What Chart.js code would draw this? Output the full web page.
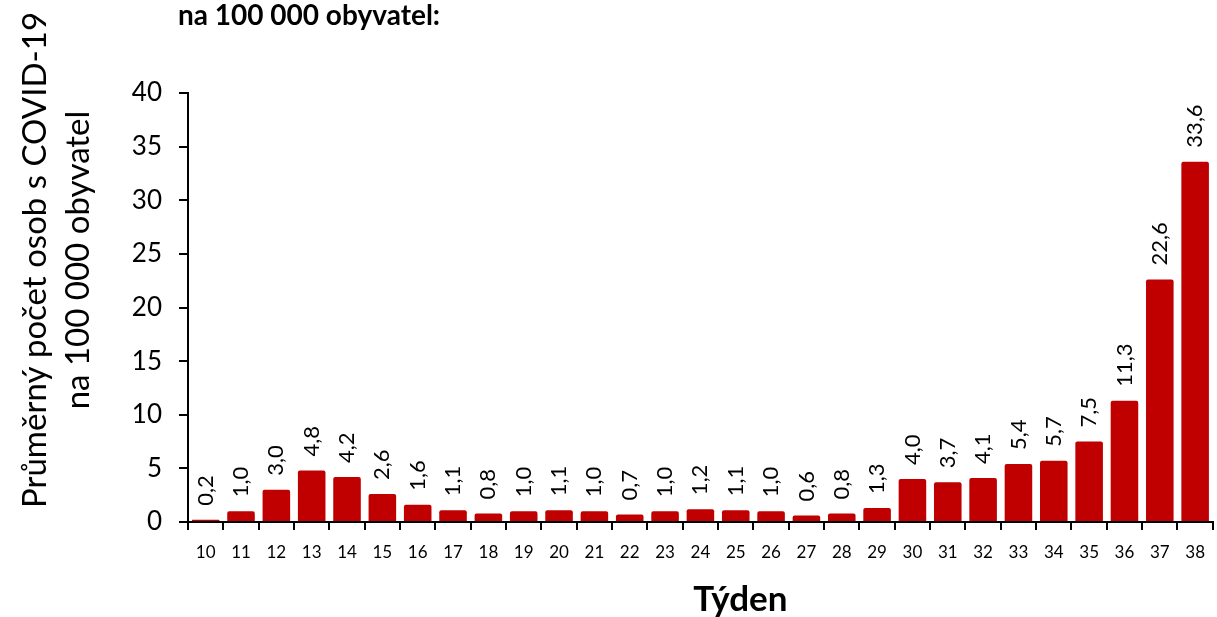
<!DOCTYPE html>
<html>
<head>
<meta charset="utf-8">
<script src="https://cdn.jsdelivr.net/npm/chart.js@4"></script>
<style>
  html, body { margin: 0; padding: 0; background: #fff; overflow: hidden; }
  canvas { display: block; }
</style>
</head>
<body>
<canvas id="myChart" width="1217" height="617"></canvas>
<script>
// tydny a hodnoty
var weeks = ['10','11','12','13','14','15','16','17','18','19','20','21','22','23','24','25','26','27','28','29','30','31','32','33','34','35','36','37','38'];
var values = [0.2,1.0,3.0,4.8,4.2,2.6,1.6,1.1,0.8,1.0,1.1,1.0,0.7,1.0,1.2,1.1,1.0,0.6,0.8,1.3,4.0,3.7,4.1,5.4,5.7,7.5,11.3,22.6,33.6];
var yTicks = [0,5,10,15,20,25,30,35,40];
var titleText = 'na 100 000 obyvatel:';
var yTitle = ['Průměrný počet osob s COVID-19', 'na 100 000 obyvatel'];
var xTitle = 'Týden';

var FONT = 'Lato, "Open Sans", sans-serif';

// popisky nad sloupci (otocene)
var barLabels = {
  id: 'barLabels',
  afterDatasetsDraw: function(chart) {
    var ctx = chart.ctx;
    var meta = chart.getDatasetMeta(0);
    ctx.save();
    ctx.fillStyle = '#000';
    ctx.font = '22px ' + FONT;
    ctx.textAlign = 'left';
    ctx.textBaseline = 'middle';
    meta.data.forEach(function(bar, i) {
      var txt = values[i].toFixed(1).replace('.', ',');
      ctx.save();
      ctx.translate(bar.x, bar.y - 14);
      ctx.rotate(-Math.PI / 2);
      ctx.fillText(txt, 0, 0);
      ctx.restore();
    });
    ctx.restore();
  }
};

// nadpis nahore + popisky os
var texts = {
  id: 'texts',
  afterDraw: function(chart) {
    var ctx = chart.ctx;
    var area = chart.chartArea;
    ctx.save();
    ctx.fillStyle = '#000';
    ctx.font = 'bold 28px ' + FONT;
    ctx.textAlign = 'left';
    ctx.textBaseline = 'middle';
    ctx.fillText(titleText, 178, 16);

    ctx.font = 'bold 35px ' + FONT;
    ctx.textAlign = 'center';
    ctx.fillText(xTitle, (area.left + area.right) / 2 + 40, 600);

    ctx.font = '33px ' + FONT;
    ctx.translate(35, 260);
    ctx.rotate(-Math.PI / 2);
    ctx.fillText(yTitle[0], 0, 0);
    ctx.fillText(yTitle[1], 0, 43);
    ctx.restore();
  }
};

var ctx = document.getElementById('myChart').getContext('2d');
var chart = new Chart(ctx, {
  type: 'bar',
  data: {
    labels: weeks,
    datasets: [{
      data: values,
      backgroundColor: '#C00000',
      borderRadius: 2,
      borderSkipped: 'bottom',
      barPercentage: 0.78,
      categoryPercentage: 1.0
    }]
  },
  options: {
    responsive: false,
    animation: false,
    layout: { padding: { top: 93, left: 13, right: 0, bottom: 0 } },
    plugins: {
      legend: { display: false },
      tooltip: { enabled: false }
    },
    scales: {
      x: {
        afterFit: function(axis) { axis.height = 95; },
        grid: { drawOnChartArea: false, drawTicks: true, tickLength: 8, color: '#000', lineWidth: 2, offset: true },
        border: { color: '#000', width: 2 },
        ticks: { color: '#000', font: { family: FONT, size: 17 }, maxRotation: 0, padding: 12 }
      },
      y: {
        min: 0,
        max: 40,
        afterFit: function(axis) { axis.width = 175; },
        afterBuildTicks: function(axis) {
          axis.ticks = yTicks.map(function(v) { return { value: v }; });
        },
        grid: { drawOnChartArea: false, drawTicks: true, tickLength: 9, color: '#000', lineWidth: 2 },
        border: { color: '#000', width: 2 },
        ticks: { color: '#000', font: { family: FONT, size: 26 }, padding: 17 }
      }
    }
  },
  plugins: [barLabels, texts]
});
</script>
</body>
</html>
